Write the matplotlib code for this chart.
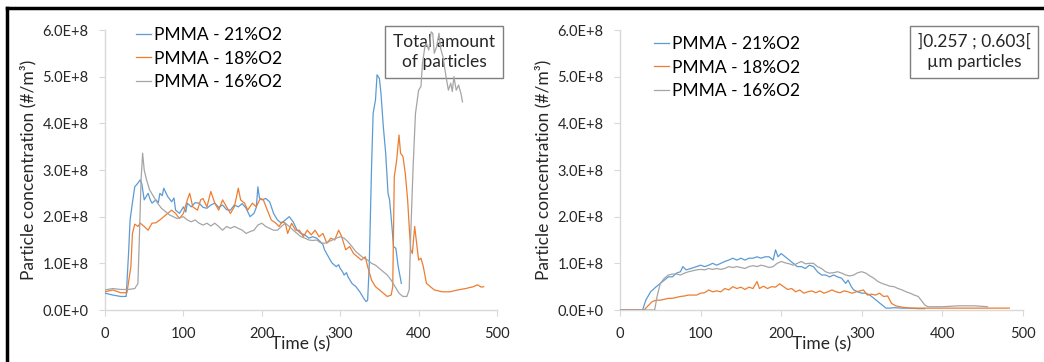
import matplotlib
matplotlib.use("Agg")
import matplotlib.pyplot as plt
from matplotlib.lines import Line2D

plt.rcParams['font.family'] = ['Lato', 'DejaVu Sans']

# ---- total amount of particles (1e8 #/m3) ----
t21_tot = [0, 10, 20, 27, 30, 32, 35, 38, 42, 45, 47, 50, 55, 58, 60, 65, 68, 70, 73, 75, 78, 80, 85, 88, 90, 95,
           100, 103, 105, 110, 115, 120, 125, 130, 135, 140, 145, 150, 155, 160, 165, 170, 175, 180, 185, 190, 193,
           195, 197, 200, 205, 210, 215, 220, 225, 230, 235, 240, 245, 250, 255, 260, 265, 270, 275, 278, 280, 283,
           285, 288, 290, 295, 298, 300, 303, 305, 308, 310, 315, 320, 325, 330, 333, 335, 337, 340, 342, 345, 347,
           350, 352, 355, 358, 361, 363, 366, 368, 371, 374, 378]
v21_tot = [0.36, 0.32, 0.29, 0.29, 1.2, 1.93, 2.3, 2.64, 2.72, 2.79, 2.7, 2.36, 2.5, 2.35, 2.29, 2.36, 2.3, 2.5, 2.45,
           2.61, 2.5, 2.43, 2.32, 2.4, 2.14, 2.07, 2.21, 2.1, 2.29, 2.21, 2.3, 2.29, 2.2, 2.18, 2.25, 2.29, 2.2, 2.25,
           2.15, 2.14, 2.25, 2.21, 2.28, 2.18, 2.0, 2.07, 2.2, 2.64, 2.4, 2.36, 2.39, 2.32, 2.07, 1.93, 1.86, 1.93,
           2.0, 1.89, 1.71, 1.64, 1.61, 1.54, 1.57, 1.54, 1.46, 1.4, 1.29, 1.2, 1.14, 1.05, 1.0, 0.93, 0.97, 0.89,
           0.82, 0.75, 0.8, 0.71, 0.57, 0.5, 0.39, 0.25, 0.18, 0.21, 0.93, 3.07, 4.21, 4.5, 5.04, 4.96, 4.64, 3.93,
           3.36, 2.5, 2.36, 1.79, 1.36, 1.32, 0.93, 0.57]

t18_tot = [0, 10, 20, 28, 33, 35, 38, 42, 45, 50, 55, 60, 65, 70, 75, 80, 85, 90, 95, 100, 105, 108, 112, 118, 122,
           125, 130, 135, 140, 145, 150, 155, 160, 165, 170, 173, 178, 182, 188, 193, 198, 202, 207, 212, 218, 222,
           226, 230, 233, 238, 243, 248, 253, 258, 263, 268, 273, 278, 283, 288, 293, 298, 302, 307, 312, 317, 322,
           327, 332, 335, 340, 345, 350, 355, 360, 365, 367, 369, 372, 375, 377, 380, 383, 386, 388, 390, 392, 395,
           397, 400, 403, 406, 410, 415, 420, 430, 440, 450, 460, 470, 475, 480, 483]
v18_tot = [0.39, 0.43, 0.37, 0.37, 0.93, 1.64, 1.84, 1.79, 1.86, 1.79, 1.71, 1.86, 1.87, 1.93, 2.0, 2.07, 2.14, 2.07,
           1.96, 2.07, 2.36, 2.5, 2.21, 2.14, 2.36, 2.39, 2.21, 2.54, 2.29, 2.14, 2.36, 2.21, 2.07, 2.21, 2.61, 2.36,
           2.29, 2.14, 2.29, 2.21, 2.39, 2.36, 2.14, 1.93, 1.86, 1.79, 1.89, 1.86, 1.64, 1.86, 1.71, 1.71, 1.57, 1.71,
           1.61, 1.71, 1.57, 1.64, 1.43, 1.54, 1.5, 1.71, 1.57, 1.29, 1.36, 1.21, 1.14, 1.07, 1.14, 0.93, 0.64, 0.5,
           0.43, 0.36, 0.29, 0.32, 0.5, 2.86, 3.21, 3.75, 3.36, 3.29, 2.93, 2.36, 1.79, 1.29, 1.21, 1.79, 1.5, 1.07,
           1.11, 0.93, 0.57, 0.5, 0.43, 0.39, 0.39, 0.43, 0.46, 0.5, 0.54, 0.49, 0.5]

t16_tot = [0, 10, 20, 30, 38, 42, 44, 46, 48, 50, 53, 57, 62, 67, 72, 77, 82, 87, 92, 100, 105, 110, 115, 120, 125,
           130, 135, 140, 145, 150, 155, 160, 165, 170, 175, 180, 185, 190, 195, 200, 205, 210, 215, 220, 225, 230,
           235, 240, 245, 250, 255, 260, 265, 270, 275, 280, 285, 290, 295, 300, 305, 310, 315, 320, 325, 330, 335,
           340, 345, 350, 355, 360, 365, 370, 375, 380, 385, 388, 390, 393, 396, 400, 403, 405, 408, 410, 413, 416,
           418, 420, 423, 426, 428, 431, 435, 438, 441, 443, 445, 448, 451, 454, 456]
v16_tot = [0.43, 0.46, 0.44, 0.44, 0.46, 0.57, 1.64, 2.79, 3.36, 3.0, 2.79, 2.57, 2.43, 2.29, 2.18, 2.11, 2.04, 2.0,
           1.96, 2.0, 1.93, 1.89, 1.93, 1.86, 1.82, 1.86, 1.8, 1.86, 1.79, 1.71, 1.79, 1.75, 1.79, 1.75, 1.71, 1.64,
           1.68, 1.71, 1.82, 1.86, 1.79, 1.75, 1.71, 1.71, 1.79, 1.86, 1.79, 1.71, 1.64, 1.57, 1.54, 1.5, 1.49, 1.5,
           1.44, 1.43, 1.46, 1.5, 1.54, 1.57, 1.54, 1.46, 1.36, 1.25, 1.18, 1.11, 1.07, 1.0, 0.96, 0.89, 0.82, 0.75,
           0.64, 0.5, 0.36, 0.29, 0.29, 0.43, 1.64, 3.07, 4.21, 4.71, 4.79, 5.29, 5.64, 5.71, 5.57, 5.96, 5.93, 5.5,
           5.64, 5.93, 5.61, 5.43, 5.0, 4.71, 4.86, 4.68, 5.0, 4.71, 4.82, 4.64, 4.46]

# ---- ]0.257 ; 0.603[ um particles (1e8 #/m3) ----
t21_fine = [0, 25, 28, 32, 38, 45, 50, 55, 60, 65, 70, 75, 78, 82, 88, 95, 100, 105, 110, 115, 120, 125, 130, 135,
            140, 145, 150, 155, 160, 165, 170, 175, 180, 185, 190, 193, 196, 200, 205, 210, 215, 220, 225, 230, 235,
            240, 245, 250, 255, 260, 265, 270, 275, 280, 283, 287, 290, 295, 300, 305, 310, 315, 320, 325, 330, 335,
            340, 350, 360, 370, 378]
v21_fine = [0.0, 0.0, 0.0, 0.21, 0.39, 0.5, 0.57, 0.64, 0.71, 0.71, 0.79, 0.82, 0.93, 0.86, 0.89, 0.93, 0.96, 0.93,
            0.96, 1.0, 0.96, 1.0, 1.04, 1.07, 1.11, 1.07, 1.11, 1.07, 1.11, 1.11, 1.14, 1.11, 1.14, 1.14, 1.07, 1.29,
            1.14, 1.21, 1.14, 1.07, 1.0, 0.93, 0.93, 0.89, 0.96, 0.93, 0.82, 0.75, 0.75, 0.71, 0.75, 0.71, 0.68, 0.57,
            0.64, 0.5, 0.43, 0.39, 0.36, 0.36, 0.32, 0.25, 0.18, 0.11, 0.04, 0.04, 0.05, 0.04, 0.04, 0.03, 0.03]

t18_fine = [0, 30, 32, 36, 40, 45, 50, 55, 60, 65, 70, 75, 80, 85, 90, 95, 100, 105, 110, 115, 120, 125, 130, 135,
            140, 145, 150, 155, 160, 165, 170, 173, 178, 183, 188, 193, 198, 203, 208, 213, 218, 223, 228, 233, 238,
            243, 248, 253, 258, 263, 268, 273, 278, 283, 288, 293, 298, 302, 307, 312, 317, 322, 327, 332, 337, 342,
            350, 360, 380, 400, 440, 470, 483]
v18_fine = [0.0, 0.0, 0.04, 0.11, 0.18, 0.21, 0.21, 0.23, 0.25, 0.25, 0.27, 0.29, 0.3, 0.32, 0.32, 0.32, 0.36, 0.37,
            0.43, 0.39, 0.41, 0.39, 0.46, 0.43, 0.5, 0.46, 0.49, 0.44, 0.49, 0.46, 0.61, 0.46, 0.51, 0.46, 0.5, 0.49,
            0.56, 0.5, 0.44, 0.46, 0.39, 0.43, 0.36, 0.39, 0.41, 0.37, 0.41, 0.36, 0.39, 0.43, 0.39, 0.37, 0.41, 0.39,
            0.36, 0.39, 0.41, 0.43, 0.32, 0.34, 0.32, 0.36, 0.29, 0.3, 0.14, 0.09, 0.06, 0.04, 0.04, 0.04, 0.04, 0.04,
            0.04]

t16_fine = [0, 40, 43, 46, 50, 55, 60, 65, 70, 75, 80, 85, 90, 95, 100, 105, 110, 115, 120, 125, 130, 135, 140, 145,
            150, 155, 160, 165, 170, 175, 180, 185, 190, 195, 200, 205, 210, 215, 220, 225, 230, 235, 240, 245, 250,
            255, 260, 265, 270, 275, 280, 285, 290, 295, 300, 305, 310, 315, 320, 325, 330, 335, 340, 345, 350, 355,
            360, 365, 370, 375, 378, 382, 390, 400, 420, 440, 456]
v16_fine = [0.0, 0.0, 0.0, 0.29, 0.57, 0.68, 0.75, 0.77, 0.77, 0.75, 0.79, 0.82, 0.84, 0.86, 0.87, 0.86, 0.89, 0.87,
            0.89, 0.87, 0.89, 0.93, 0.91, 0.93, 0.91, 0.89, 0.93, 0.95, 0.93, 0.96, 0.94, 0.91, 0.93, 1.0, 1.04, 1.01,
            0.99, 0.96, 1.0, 1.04, 0.99, 1.0, 1.0, 0.93, 0.89, 0.82, 0.79, 0.8, 0.82, 0.79, 0.75, 0.73, 0.75, 0.8,
            0.82, 0.79, 0.73, 0.68, 0.61, 0.57, 0.54, 0.51, 0.5, 0.46, 0.43, 0.39, 0.36, 0.32, 0.29, 0.18, 0.11, 0.07,
            0.07, 0.07, 0.09, 0.09, 0.07]

labels = ['PMMA - 21%O2', 'PMMA - 18%O2', 'PMMA - 16%O2']
colors = ['#5B9BD5', '#ED7D31', '#A5A5A5']
yticks = [0, 1, 2, 3, 4, 5, 6]
ytick_labels = ['0.0E+0', '1.0E+8', '2.0E+8', '3.0E+8', '4.0E+8', '5.0E+8', '6.0E+8']
xticks = [0, 100, 200, 300, 400, 500]

W, H = 1044, 362
fig = plt.figure(figsize=(W / 100, H / 100), dpi=100)


def px(x0, y0, x1, y1):
    return [x0 / W, 1 - y1 / H, (x1 - x0) / W, (y1 - y0) / H]


ax1 = fig.add_axes(px(105, 30, 497, 310))
ax2 = fig.add_axes(px(620, 30, 1023, 310))

panels = [
    (ax1, [(t21_tot, v21_tot), (t18_tot, v18_tot), (t16_tot, v16_tot)],
     'Total amount\nof particles', (444, 52), (140, 34)),
    (ax2, [(t21_fine, v21_fine), (t18_fine, v18_fine), (t16_fine, v16_fine)],
     ']0.257 ; 0.603[\n\u00b5m particles', (974, 52), (658, 43)),
]

for ax, series, boxtxt, boxpos, legpos in panels:
    ax.patch.set_alpha(0)
    handles = []
    for (t, v), lab, c in zip(series, labels, colors):
        h, = ax.plot(t, v, color=c, lw=0.9, label=lab, zorder=3)
        handles.append(h)
    ax.set_xlim(0, 500)
    ax.set_ylim(0, 6)
    ax.set_xticks(xticks)
    ax.set_yticks(yticks)
    ax.set_yticklabels(ytick_labels)
    for s in ['top', 'right']:
        ax.spines[s].set_visible(False)
    for s in ['left', 'bottom']:
        ax.spines[s].set_color('#d9d9d9')
        ax.spines[s].set_linewidth(1)
    ax.tick_params(axis='both', colors='#d9d9d9', labelcolor='#262626', labelsize=10.5, length=4)
    ax.tick_params(axis='x', pad=8)
    ax.tick_params(axis='y', pad=8)
    ax.set_xlabel('Time (s)', fontsize=12.5, color='#262626', labelpad=-3)
    ax.set_ylabel('Particle concentration (#/m\u00b3)', fontsize=12.5, color='#262626', labelpad=4)
    ax.legend(handles=handles, loc='upper left',
              bbox_to_anchor=(legpos[0] / W - 0.004, 1 - legpos[1] / H + 0.02),
              bbox_transform=fig.transFigure, frameon=False, fontsize=12.5,
              handlelength=0.9, handletextpad=0.15, labelspacing=0.45, borderpad=0, borderaxespad=0)
    # label box sits under the curves
    ax.text(boxpos[0] / W, 1 - boxpos[1] / H, boxtxt, transform=fig.transFigure,
            ha='center', va='center', fontsize=12.5, color='#262626', linespacing=1.35,
            zorder=1, clip_on=False,
            bbox=dict(boxstyle='square,pad=0.45', fc='white', ec='#7f7f7f', lw=1))

# outer frame on the left and top
fig.add_artist(Line2D([7 / W, 7 / W], [0, 1 - 8 / H], color='black', lw=2.5))
fig.add_artist(Line2D([7 / W, 1], [1 - 8 / H, 1 - 8 / H], color='black', lw=2.5))

fig.savefig('out.png', dpi=100)
